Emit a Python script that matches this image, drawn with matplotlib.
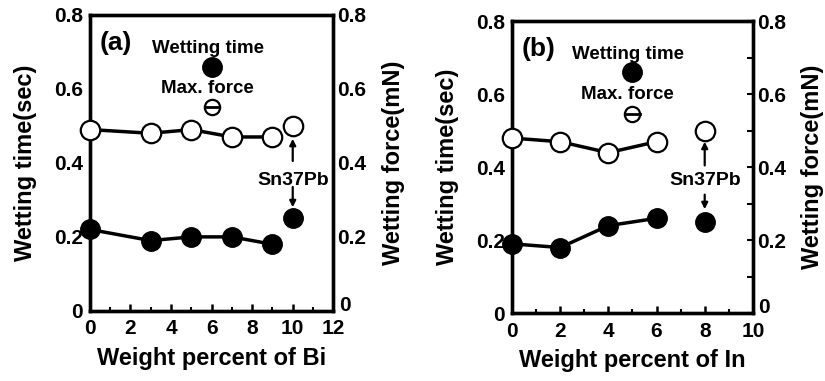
import matplotlib
matplotlib.use("Agg")
import matplotlib.pyplot as plt
from matplotlib.ticker import FuncFormatter, MultipleLocator

plt.rcParams['font.family'] = ['Liberation Sans', 'DejaVu Sans']
plt.rcParams['font.weight'] = 'bold'

# Panel (a): Bi
bi_x = [0, 3, 5, 7, 9]
bi_time = [0.22, 0.19, 0.20, 0.20, 0.18]
bi_force = [0.49, 0.48, 0.49, 0.47, 0.47]
# Panel (b): In
in_x = [0, 2, 4, 6]
in_time = [0.19, 0.18, 0.24, 0.26]
in_force = [0.48, 0.47, 0.44, 0.47]
# Sn37Pb reference
ref_x_a = 10
ref_x_b = 8
ref_time = 0.25
ref_force = 0.50
# legend marker positions (x, time, force)
leg_a = (6, 0.66, 0.55)
leg_b = (5, 0.66, 0.545)

y_ticks = [0, 0.2, 0.4, 0.6, 0.8]

fig = plt.figure(figsize=(8.25, 3.81), dpi=100)

def fmt(v, pos):
    return '0' if abs(v) < 1e-9 else f'{v:.1f}'

def fmt_right(v, pos):
    return '' if abs(v) < 1e-9 else f'{v:.1f}'

def panel(rect, xs, t, f, xmax, refx, leg, tag, xlabel, right_minor, txt_x, tag_x, sn_y, up, down):
    ax = fig.add_axes(rect)
    ax2 = ax.twinx()
    for s in ax.spines.values():
        s.set_linewidth(2.4)
    for s in ax2.spines.values():
        s.set_linewidth(2.4)
    ax.set_xlim(0, xmax)
    ax.set_ylim(0, 0.8)
    ax2.set_ylim(0, 0.8)
    ax.set_xticks(list(range(0, xmax + 1, 2)))
    ax.xaxis.set_minor_locator(MultipleLocator(1))
    ax.set_yticks(y_ticks)
    ax2.set_yticks(y_ticks)
    ax.yaxis.set_major_formatter(FuncFormatter(fmt))
    ax2.yaxis.set_major_formatter(FuncFormatter(fmt_right))
    ax.tick_params(axis='x', direction='in', length=5, width=1.8, labelsize=15, pad=6)
    ax.tick_params(axis='x', which='minor', direction='in', length=3, width=1.5)
    ax.tick_params(axis='y', direction='in', length=0, labelsize=15, pad=5)
    if right_minor:
        ax2.yaxis.set_minor_locator(MultipleLocator(0.1))
        ax2.tick_params(axis='y', which='both', direction='in', length=4, width=1.5, labelsize=15, pad=3)
    else:
        ax2.tick_params(axis='y', direction='in', length=0, labelsize=15, pad=3)
    for lab in ax.get_xticklabels() + ax.get_yticklabels() + ax2.get_yticklabels():
        lab.set_fontweight('bold')
    # right-axis zero label, lifted slightly as in the reference
    ax2.annotate('0', xy=(1, 0), xycoords=ax2.get_yaxis_transform(), xytext=(4, 4),
                 textcoords='offset points', ha='left', va='center', fontsize=15, fontweight='bold',
                 annotation_clip=False)
    ax.set_xlabel(xlabel, fontsize=17, fontweight='bold', labelpad=6)
    ax.set_ylabel('Wetting time(sec)', fontsize=17, fontweight='bold', labelpad=12)
    ax2.set_ylabel('Wetting force(mN)', fontsize=17, fontweight='bold', labelpad=11)

    ax2.plot(xs, f, '-o', color='black', lw=2.5, ms=14, mfc='white', mec='black', mew=1.6, clip_on=False, zorder=3)
    ax2.plot(xs, t, '-o', color='black', lw=2.5, ms=14, mfc='black', mec='black', clip_on=False, zorder=3)
    ax2.plot([refx], [ref_force], 'o', ms=14, mfc='white', mec='black', mew=1.6, zorder=3)
    ax2.plot([refx], [ref_time], 'o', ms=14, mfc='black', mec='black', zorder=3)
    # legend markers
    ax2.plot([leg[0]], [leg[1]], 'o', ms=14, mfc='black', mec='black')
    ax2.plot([leg[0]], [leg[2]], 'o', ms=11, mfc='white', mec='black', mew=1.6)
    ax2.plot([leg[0] - 0.3, leg[0] + 0.3], [leg[2], leg[2]], '-', color='black', lw=2)
    ax2.text(txt_x, 0.71, 'Wetting time', ha='center', va='center', fontsize=13.5, fontweight='bold')
    ax2.text(txt_x, 0.60, 'Max. force', ha='center', va='center', fontsize=13.5, fontweight='bold')
    ax2.text(tag_x, 0.725, tag, ha='center', va='center', fontsize=19, fontweight='bold')
    ax2.text(refx, sn_y, 'Sn37Pb', ha='center', va='center', fontsize=14, fontweight='bold')
    ax2.annotate('', xy=(refx, up[1]), xytext=(refx, up[0]),
                 arrowprops=dict(arrowstyle='-|>', color='black', lw=1.6, mutation_scale=9, shrinkA=0, shrinkB=0))
    ax2.annotate('', xy=(refx, down[1]), xytext=(refx, down[0]),
                 arrowprops=dict(arrowstyle='-|>', color='black', lw=1.6, mutation_scale=9, shrinkA=0, shrinkB=0))
    return ax

panel([0.109, 0.184, 0.295, 0.777], bi_x, bi_time, bi_force, 12, ref_x_a, leg_a, '(a)',
      'Weight percent of Bi', False, 5.8, 1.3, 0.352, (0.405, 0.465), (0.335, 0.28))
panel([0.6206, 0.178, 0.292, 0.766], in_x, in_time, in_force, 10, ref_x_b, leg_b, '(b)',
      'Weight percent of In', True, 4.8, 1.1, 0.365, (0.405, 0.47), (0.325, 0.285))

fig.savefig('out.png', dpi=100)
